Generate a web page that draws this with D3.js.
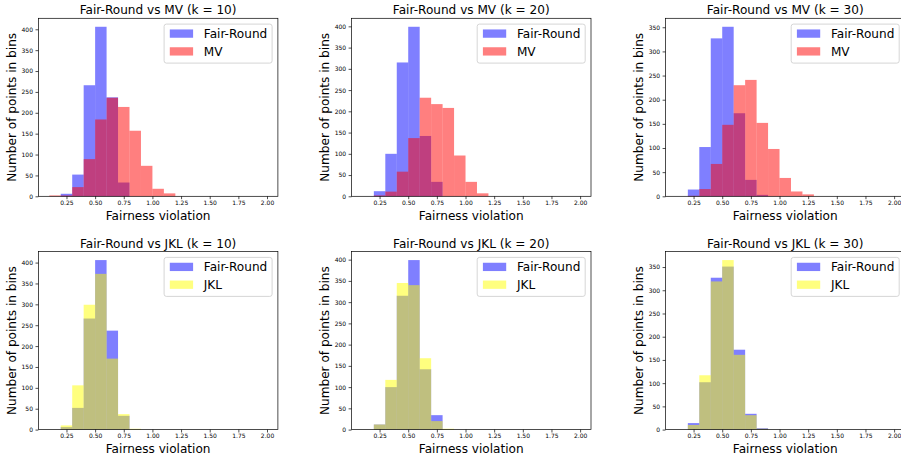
<!DOCTYPE html>
<html>
<head>
<meta charset="utf-8">
<script src="https://cdn.jsdelivr.net/npm/d3@7/dist/d3.min.js"></script>
<style>
  html, body { margin: 0; padding: 0; background: #fff; }
  svg { display: block; font-family: "DejaVu Sans", sans-serif; }
</style>
</head>
<body>
<svg id="chart" width="901" height="458"></svg>
<script>
// Histogram bin edges (width 0.1)
const binEdges = [0.1,0.2,0.3,0.4,0.5,0.6,0.7,0.8,0.9,1.0,1.1,1.2,1.3,1.4,1.5,1.6,1.7,1.8,1.9,2.0];

// Counts per bin (bins: 0.1-0.2, 0.2-0.3, ..., 1.9-2.0)
const fairRoundK10 = [0, 6, 52, 266, 406, 237, 33, 0, 0, 0, 0, 0, 0, 0, 0, 0, 0, 0, 0];
const fairRoundK20 = [0, 12, 100, 315, 399, 142, 34, 0, 0, 0, 0, 0, 0, 0, 0, 0, 0, 0, 0];
const fairRoundK30 = [0, 14, 102, 327, 351, 172, 34, 3, 0, 0, 0, 0, 0, 0, 0, 0, 0, 0, 0];
const mvK10 = [2, 2, 22, 89, 184, 236, 214, 157, 73, 18, 7, 0, 0, 0, 0, 0, 0, 0, 0];
const mvK20 = [0, 2, 11, 58, 137, 232, 217, 208, 96, 34, 7, 0, 0, 0, 0, 0, 0, 0, 0];
const mvK30 = [0, 1, 15, 67, 148, 230, 241, 152, 98, 38, 10, 4, 0, 0, 0, 0, 0, 0, 0];
const jklK10 = [0, 10, 106, 299, 373, 170, 37, 2, 0, 0, 0, 0, 0, 0, 0, 0, 0, 0, 0];
const jklK20 = [0, 12, 117, 345, 340, 168, 20, 2, 0, 0, 0, 0, 0, 0, 0, 0, 0, 0, 0];
const jklK30 = [0, 10, 117, 319, 365, 161, 31, 2, 0, 0, 0, 0, 0, 0, 0, 0, 0, 0, 0];

const xTicks = [0.25, 0.50, 0.75, 1.00, 1.25, 1.50, 1.75, 2.00];
const titles = ["Fair-Round vs MV (k = 10)", "Fair-Round vs MV (k = 20)", "Fair-Round vs MV (k = 30)",
                "Fair-Round vs JKL (k = 10)", "Fair-Round vs JKL (k = 20)", "Fair-Round vs JKL (k = 30)"];
const seriesNames = ["Fair-Round", "MV", "JKL"];
const xLabel = "Fairness violation";
const yLabel = "Number of points in bins";

const colors = { "Fair-Round": "#0000ff", "MV": "#ff0000", "JKL": "#ffff00" };

const panels = [
  { title: titles[0], a: fairRoundK10, b: mvK10, bName: "MV", row: 0, col: 0 },
  { title: titles[1], a: fairRoundK20, b: mvK20, bName: "MV", row: 0, col: 1 },
  { title: titles[2], a: fairRoundK30, b: mvK30, bName: "MV", row: 0, col: 2 },
  { title: titles[3], a: fairRoundK10, b: jklK10, bName: "JKL", row: 1, col: 0 },
  { title: titles[4], a: fairRoundK20, b: jklK20, bName: "JKL", row: 1, col: 1 },
  { title: titles[5], a: fairRoundK30, b: jklK30, bName: "JKL", row: 1, col: 2 }
];

// layout
const colLeft = [38.4, 351.5, 665.5];
const colW = 239.5;
const rowTop = [18.3, 251.6];
const rowH = 178;
const fs = 12.1;     // label/title/legend font size
const tickFs = 6;    // tick label font size

const svg = d3.select("#chart");

const lo = binEdges[0], hi = binEdges[binEdges.length - 1];
const pad = (hi - lo) * 0.05;

panels.forEach(p => {
  const left = colLeft[p.col], top = rowTop[p.row];
  const g = svg.append("g").attr("transform", `translate(${left},${top})`);

  const x = d3.scaleLinear().domain([lo - pad, hi + pad]).range([0, colW]);
  const ymax = d3.max(p.a.concat(p.b)) * 1.05;
  const y = d3.scaleLinear().domain([0, ymax]).range([rowH, 0]);

  const drawSeries = (counts, name) => {
    const bins = counts.map((c, i) => ({ x0: binEdges[i], x1: binEdges[i + 1], c }))
                       .filter(d => d.c > 0);
    g.append("g").selectAll("rect").data(bins).join("rect")
      .attr("x", d => x(d.x0))
      .attr("width", d => x(d.x1) - x(d.x0))
      .attr("y", d => y(d.c))
      .attr("height", d => y(0) - y(d.c))
      .attr("fill", colors[name])
      .attr("fill-opacity", 0.5);
  };
  drawSeries(p.a, "Fair-Round");
  drawSeries(p.b, p.bName);

  // axes
  const xAxis = d3.axisBottom(x).tickValues(xTicks).tickFormat(d3.format(".2f"))
    .tickSize(2.9).tickPadding(1.5);
  const yAxis = d3.axisLeft(y).ticks(10).tickSize(2.9).tickPadding(2.5);

  const gx = g.append("g").attr("transform", `translate(0,${rowH})`).call(xAxis);
  const gy = g.append("g").call(yAxis);
  [gx, gy].forEach(a => {
    a.select(".domain").remove();
    a.selectAll("line").attr("stroke", "#000").attr("stroke-width", 0.7);
    a.selectAll("text").attr("font-size", tickFs).attr("fill", "#000")
      .attr("font-family", "DejaVu Sans, sans-serif");
  });

  // frame
  g.append("rect").attr("x", 0).attr("y", 0).attr("width", colW).attr("height", rowH)
    .attr("fill", "none").attr("stroke", "#000").attr("stroke-width", 0.7);

  // title
  g.append("text").attr("x", colW / 2).attr("y", -4)
    .attr("text-anchor", "middle").attr("font-size", fs).attr("fill", "#000")
    .text(p.title);

  // x label
  g.append("text").attr("x", colW / 2).attr("y", rowH + 19).attr("dy", "0.35em")
    .attr("text-anchor", "middle").attr("font-size", fs).attr("fill", "#000")
    .text(xLabel);

  // y label
  g.append("text")
    .attr("transform", `translate(${-27},${rowH / 2}) rotate(-90)`)
    .attr("dy", "0.35em")
    .attr("text-anchor", "middle").attr("font-size", fs).attr("fill", "#000")
    .text(yLabel);

  // legend
  const lw = 108, lh = 39, inset = 5.8;
  const lg = g.append("g").attr("transform", `translate(${colW - inset - lw},${inset})`);
  lg.append("rect").attr("width", lw).attr("height", lh).attr("rx", 2.3)
    .attr("fill", "#fff").attr("fill-opacity", 0.8)
    .attr("stroke", "#cccccc").attr("stroke-width", 0.8);
  [seriesNames[0], p.bName].forEach((name, i) => {
    const cy = 9.5 + i * 17.8;
    lg.append("rect").attr("x", 5.7).attr("y", cy - 4.15).attr("width", 23.3).attr("height", 8.3)
      .attr("fill", colors[name]).attr("fill-opacity", 0.5);
    lg.append("text").attr("x", 39.7).attr("y", cy).attr("dy", "0.35em")
      .attr("font-size", fs).attr("fill", "#000").text(name);
  });
});
</script>
</body>
</html>
